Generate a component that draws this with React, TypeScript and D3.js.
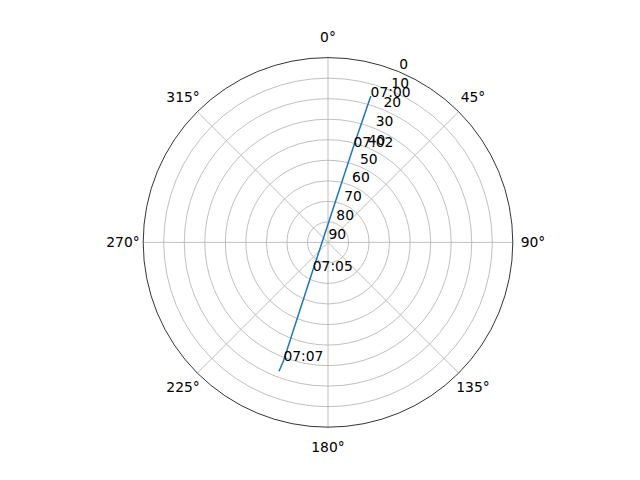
import React from "react";
import * as d3 from "d3";

// Satellite pass (azimuth degrees clockwise from north, elevation degrees)
const times = ["07:00", "07:02", "07:05", "07:07", "07:08"];
const azimuth = [16.3, 14.9, 208.4, 200.6, 200.8];
const elevation = [16.1, 41.8, 74.4, 28.3, 23.2];
const labeled = [true, true, true, true, false];

const radialTicks = [0, 10, 20, 30, 40, 50, 60, 70, 80, 90];
const angleTicks = [0, 45, 90, 135, 180, 225, 270, 315];

const W = 640;
const H = 480;
const CX = 328;
const CY = 242.4;
const R = 184.8;
const FONT = "'DejaVu Sans', sans-serif";
const FS = 13.89;

export default function App() {
  const rScale = d3.scaleLinear().domain([90, 0]).range([0, R]);
  const toXY = (az: number, el: number): [number, number] => {
    const a = (az * Math.PI) / 180;
    const r = rScale(el);
    return [CX + r * Math.sin(a), CY - r * Math.cos(a)];
  };
  const pts = times.map((t, i) => toXY(azimuth[i], elevation[i]));
  const line = d3.line<[number, number]>().x((d) => d[0]).y((d) => d[1]);

  const gridRings = radialTicks.filter((t) => t > 0 && t < 90);

  return (
    <svg
      width={W}
      height={H}
      viewBox={`0 0 ${W} ${H}`}
      style={{ position: "absolute", left: 0, top: 0, background: "#fff" }}
      fontFamily={FONT}
      fontSize={FS}
    >
      <rect x={0} y={0} width={W} height={H} fill="#fff" />
      {gridRings.map((t) => (
        <circle key={"g" + t} cx={CX} cy={CY} r={rScale(t)} fill="none" stroke="#b0b0b0" strokeWidth={0.8} />
      ))}
      {angleTicks.map((a) => {
        const [x, y] = toXY(a, 0);
        return <line key={"s" + a} x1={CX} y1={CY} x2={x} y2={y} stroke="#b0b0b0" strokeWidth={0.8} />;
      })}
      <path d={line(pts) || ""} fill="none" stroke="#1f77b4" strokeWidth={1.5} strokeLinecap="square" />
      <circle cx={CX} cy={CY} r={R} fill="none" stroke="#000" strokeWidth={0.8} />
      {angleTicks.map((a) => {
        const rad = (a * Math.PI) / 180;
        const x = CX + 205 * Math.sin(rad);
        const y = CY - 205 * Math.cos(rad);
        return (
          <text key={"a" + a} x={x} y={y} textAnchor="middle" dominantBaseline="central" fill="#000">
            {a + "°"}
          </text>
        );
      })}
      {radialTicks.map((t) => {
        const [x, y] = toXY(22.5, t);
        return (
          <text key={"r" + t} x={x + 0.5} y={y - 3} textAnchor="start" fill="#000">
            {t}
          </text>
        );
      })}
      {times.map((t, i) =>
        labeled[i] ? (
          <text key={"t" + i} x={pts[i][0]} y={pts[i][1]} textAnchor="start" fill="#000">
            {t}
          </text>
        ) : null
      )}
    </svg>
  );
}
